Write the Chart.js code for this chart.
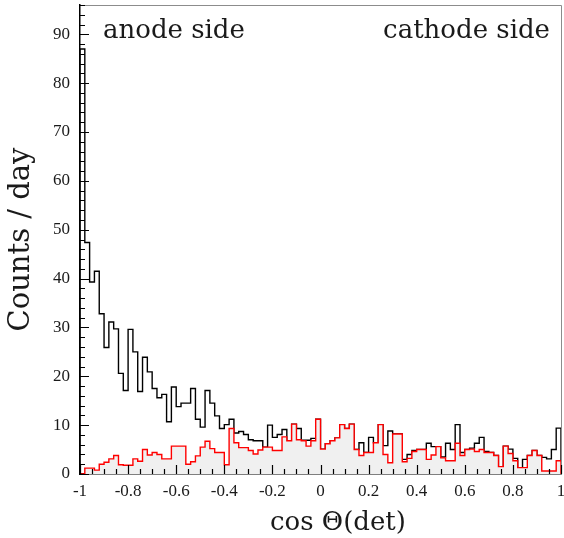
<!DOCTYPE html>
<html>
<head>
<meta charset="utf-8">
<script src="https://cdn.jsdelivr.net/npm/chart.js@4.4.1/dist/chart.umd.min.js"></script>
<style>
  html, body { margin: 0; padding: 0; background: #ffffff; }
  canvas { display: block; }
</style>
</head>
<body>
<canvas id="chart" width="564" height="538"></canvas>
<script>
// Histogram binning in cos Θ(det): 100 bins of width 0.02 from -1 to 1
const binCount = 100;
const binLow = -1;
const binHigh = 1;
const binEdges = Array.from({ length: binCount + 1 }, (_, i) => binLow + i * (binHigh - binLow) / binCount);

// Counts per day, all events (black outline)
const allCounts = [
  87.0, 47.4, 39.3, 41.5, 32.8, 25.9, 31.1, 29.7, 20.6, 17.1,
  29.6, 25.0, 16.9, 23.9, 20.9, 17.5, 15.6, 16.3, 10.7, 17.8,
  13.8, 14.5, 14.5, 17.5, 11.2, 9.6, 17.1, 14.5, 11.9, 9.3,
  10.1, 11.2, 8.4, 8.7, 8.1, 7.0, 6.8, 6.8, 5.5, 10.0,
  7.5, 8.1, 9.1, 6.8, 10.2, 9.3, 6.9, 6.9, 7.3, 11.2,
  5.1, 6.2, 6.8, 7.4, 10.1, 9.3, 10.2, 5.0, 6.4, 4.4,
  7.5, 6.4, 10.1, 5.8, 8.8, 8.2, 8.2, 3.0, 4.0, 4.8,
  5.0, 5.0, 6.3, 5.6, 5.6, 3.5, 6.3, 5.0, 10.1, 4.4,
  5.0, 5.3, 6.3, 7.5, 4.6, 4.4, 3.8, 1.5, 5.7, 5.1,
  3.2, 1.3, 3.0, 3.8, 4.8, 3.8, 3.4, 3.1, 5.0, 9.4
];

// Counts per day, selected events (red outline, grey fill)
const selectedCounts = [
  0.0, 1.2, 1.2, 0.8, 2.0, 2.4, 3.1, 3.8, 1.9, 1.8,
  1.8, 3.1, 2.6, 5.0, 3.9, 4.4, 4.0, 3.1, 3.1, 5.7,
  5.7, 5.7, 2.0, 2.5, 3.7, 5.5, 6.7, 5.2, 4.4, 4.4,
  1.9, 9.3, 6.4, 5.4, 5.4, 4.8, 4.1, 4.9, 5.5, 5.5,
  4.8, 4.8, 7.6, 6.8, 10.2, 7.0, 6.8, 5.7, 6.8, 11.2,
  5.1, 6.2, 6.8, 7.4, 10.1, 9.3, 10.2, 5.0, 3.8, 4.4,
  4.4, 6.4, 10.1, 4.0, 2.3, 8.2, 8.2, 2.5, 3.2, 4.6,
  5.0, 5.0, 3.0, 3.9, 5.6, 3.3, 2.7, 2.7, 6.3, 3.8,
  5.0, 5.1, 4.6, 5.0, 4.4, 4.4, 3.8, 1.5, 5.7, 4.2,
  2.7, 1.3, 1.3, 3.8, 4.8, 3.8, 0.6, 0.6, 0.6, 2.7
];

// Axis settings
const xTickStep = 0.2;
const xMinorStep = 0.05;
const yMax = 96;
const yTickStep = 10;
const yMinorStep = 2;

const xTitle = 'cos Θ(det)';
const yTitle = 'Counts / day';
const leftNote = 'anode side';
const rightNote = 'cathode side';

// Turn bin contents into a closed step outline (down to zero at both ends)
function histogramPoints(counts) {
  const pts = [{ x: binEdges[0], y: 0 }];
  counts.forEach((v, i) => pts.push({ x: binEdges[i], y: v }));
  pts.push({ x: binEdges[binCount], y: counts[binCount - 1] });
  pts.push({ x: binEdges[binCount], y: 0 });
  return pts;
}

const serif = '"Liberation Serif", "Times New Roman", serif';
const titleFont = '"DejaVu Serif", serif';
const textColor = '#1a1a1a';

// Frame, inward tick marks and free text
const decorations = {
  id: 'decorations',
  afterDatasetsDraw(chart) {
    const { ctx, chartArea: a, scales: { x, y } } = chart;
    ctx.save();
    // top and right frame
    ctx.strokeStyle = '#8c8c8c';
    ctx.lineWidth = 1;
    ctx.beginPath();
    ctx.moveTo(a.left, a.top + 0.5);
    ctx.lineTo(a.right + 0.5, a.top + 0.5);
    ctx.lineTo(a.right + 0.5, a.bottom);
    ctx.stroke();

    // inward ticks on the y axis
    ctx.strokeStyle = '#000';
    ctx.lineWidth = 1.2;
    ctx.beginPath();
    for (let k = 0; k * yMinorStep <= yMax; k++) {
      const v = k * yMinorStep;
      const py = Math.round(y.getPixelForValue(v)) + 0.5;
      const len = (v % yTickStep === 0) ? 9 : 5;
      ctx.moveTo(a.left, py);
      ctx.lineTo(a.left + len, py);
    }
    // inward ticks on the x axis
    const nMinor = Math.round((binHigh - binLow) / xMinorStep);
    const perMajor = Math.round(xTickStep / xMinorStep);
    for (let k = 0; k <= nMinor; k++) {
      const v = binLow + k * xMinorStep;
      const px = Math.round(x.getPixelForValue(v)) + 0.5;
      const len = (k % perMajor === 0) ? 9 : 5;
      ctx.moveTo(px, a.bottom);
      ctx.lineTo(px, a.bottom - len);
    }
    ctx.stroke();

    // side labels
    ctx.fillStyle = textColor;
    ctx.font = '26px ' + titleFont;
    ctx.textBaseline = 'alphabetic';
    ctx.textAlign = 'left';
    ctx.fillText(leftNote, a.left + 23, 38);
    ctx.textAlign = 'right';
    ctx.fillText(rightNote, a.right - 11, 38);

    // x axis title
    ctx.textAlign = 'center';
    ctx.fillText(xTitle, 338, 530);
    ctx.restore();
  }
};

function fmtX(v) {
  const r = Math.round(v * 10) / 10;
  return r === 0 ? '0' : String(r);
}

new Chart(document.getElementById('chart'), {
  type: 'line',
  data: {
    datasets: [
      {
        label: 'selected',
        data: histogramPoints(selectedCounts),
        stepped: 'before',
        borderColor: '#ff0000',
        borderWidth: 1.4,
        backgroundColor: '#f0f0f0',
        fill: 'origin',
        pointRadius: 0,
        order: 0
      },
      {
        label: 'all',
        data: histogramPoints(allCounts),
        stepped: 'before',
        borderColor: '#000000',
        borderWidth: 1.4,
        fill: false,
        pointRadius: 0,
        order: 1
      }
    ]
  },
  options: {
    responsive: false,
    animation: false,
    devicePixelRatio: 1,
    layout: { padding: { top: 5, right: 3, left: 0, bottom: 0 } },
    plugins: { legend: { display: false }, tooltip: { enabled: false } },
    scales: {
      x: {
        type: 'linear',
        min: binLow,
        max: binHigh,
        grid: { display: false, drawTicks: false },
        border: { display: true, color: '#000', width: 1.5 },
        ticks: {
          stepSize: xTickStep,
          padding: 7,
          color: textColor,
          font: { family: serif, size: 17 },
          maxRotation: 0,
          autoSkip: false,
          callback: fmtX
        },
        afterFit(scale) {
          scale.height = 64;
          scale.paddingLeft = 0;
          scale.paddingRight = 0;
        }
      },
      y: {
        type: 'linear',
        min: 0,
        max: yMax,
        grid: { display: false, drawTicks: false },
        border: { display: true, color: '#000', width: 1.5 },
        ticks: {
          stepSize: yTickStep,
          padding: 10,
          color: textColor,
          font: { family: serif, size: 17 },
          autoSkip: false
        },
        afterBuildTicks(scale) {
          scale.ticks = scale.ticks.filter(t => t.value % yTickStep === 0);
        },
        title: {
          display: true,
          text: yTitle,
          color: textColor,
          font: { family: titleFont, size: 29 },
          padding: { top: 4, bottom: 0 }
        },
        afterFit(scale) {
          scale.width = 80;
          scale.paddingTop = 0;
          scale.paddingBottom = 0;
        }
      }
    }
  },
  plugins: [decorations]
});
</script>
</body>
</html>
